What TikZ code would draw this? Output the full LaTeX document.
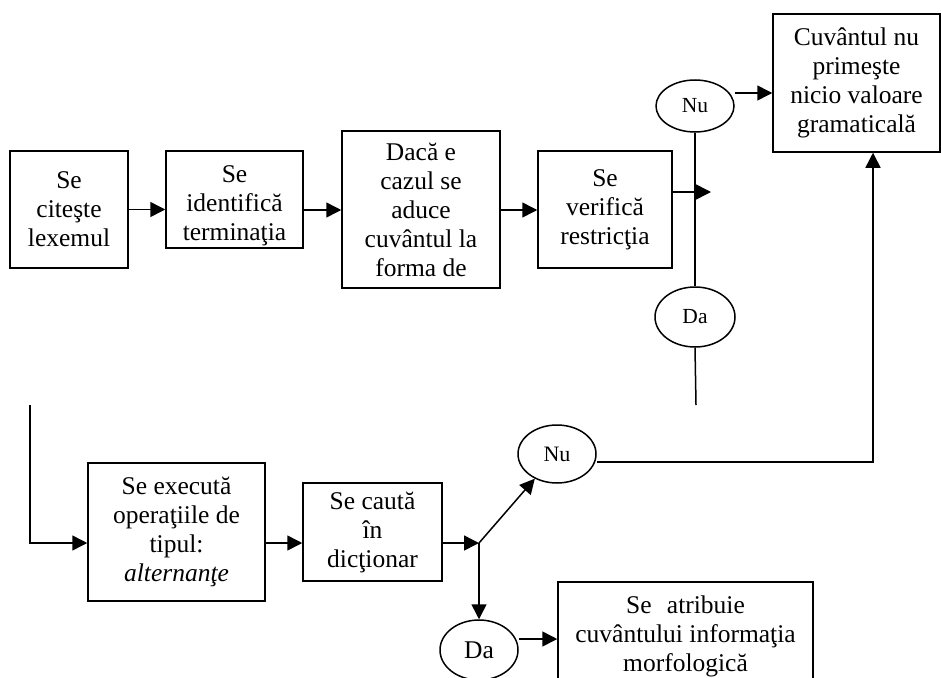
\documentclass[tikz,border=0pt]{standalone}
\usepackage{fontspec}
\setmainfont{Liberation Serif}
\usetikzlibrary{arrows.meta,shapes.geometric}
\newcommand\bigtxt{\fontsize{25.5}{29}\selectfont}
\newcommand\midtxt{\fontsize{22}{25}\selectfont}
\newcommand\smalltxt{\fontsize{21.5}{24}\selectfont}
\tikzset{
  box/.style={draw, line width=1.5pt, inner sep=0pt, align=center, font=\bigtxt},
  oval/.style={draw, ellipse, line width=1.5pt, inner sep=0pt},
  arr/.style={line width=1.5pt, -{Triangle[length=15pt,width=15pt]}},
  ln/.style={line width=1.5pt}
}
\begin{document}
\begin{tikzpicture}[x=1pt, y=-1pt]
\useasboundingbox (0,0) rectangle (941,677);
\clip (0,0) rectangle (941,677);

% upper row
\node[box, minimum width=118pt, minimum height=117pt] (b1) at (69,209.5) {Se\\citeşte\\lexemul};
\node[box, minimum width=137pt, minimum height=97pt] (b2) at (234.5,199.5) {\rule{0pt}{29pt}Se\\identifică\\terminaţia};
\node[box, minimum width=158pt, minimum height=157pt] (b3) at (421,209.5) {Dacă e\\cazul se\\aduce\\cuvântul la\\forma de};
\node[box, minimum width=134pt, minimum height=117pt] (b4) at (605,209.5) {Se\\verifică\\restricţia};
\node[box, minimum width=167pt, minimum height=138pt] (cuv) at (856.5,83) {Cuvântul nu\\primeşte\\nicio valoare\\gramaticală};

\node[oval, minimum width=78pt, minimum height=52pt, font=\smalltxt] (nu1) at (695,106) {Nu};
\node[oval, minimum width=80pt, minimum height=60pt, font=\smalltxt] (da1) at (695,317) {Da};

% lower row
\node[box, minimum width=177pt, minimum height=138pt] (b5) at (176.5,532) {Se execută\\operaţiile de\\tipul:\\\textit{alternanţe}};
\node[box, minimum width=139pt, minimum height=98pt] (b6) at (372.5,532) {Se caută\\în\\dicţionar};
\node[oval, minimum width=78pt, minimum height=58pt, font=\midtxt] (nu2) at (557,454) {Nu};
\node[oval, minimum width=78pt, minimum height=60pt, font=\bigtxt] (da2) at (479,650) {Da};
\node[box, minimum width=255pt, minimum height=108pt] (b7) at (685.5,636) {Se\hspace{0.6em}atribuie\\cuvântului informaţia\\morfologică};

% helper points
\coordinate (r1) at (0,210);
\coordinate (r2) at (0,543);
\coordinate (t1) at (711,192);
\coordinate (e1) at (696,405);
\coordinate (s2) at (30,405);
\coordinate (j) at (479,543);
\coordinate (ux) at (873,0);

% upper connectors
\draw[arr] (b1.east) -- (b1.east -| b2.west);
\draw[arr] (b2.east |- r1) -- (b3.west |- r1);
\draw[arr] (b3.east |- r1) -- (b4.west |- r1);
\draw[arr] (b4.east |- t1) -- (t1);
\draw[ln] (nu1.south) -- (da1.north);
\draw[ln] (da1.south) -- (e1);
\draw[arr] ([yshift=13pt]nu1.east) -- ([yshift=13pt]nu1.east -| cuv.west);

% lower connectors
\draw[arr] (s2) |- (b5.west |- r2);
\draw[arr] (b5.east |- r2) -- (b6.west |- r2);
\draw[arr] (b6.east |- r2) -- (j);
\draw[arr] (j) -- (nu2.228);
\draw[arr] (j) -- (da2.north);
\draw[arr] ([yshift=-8pt]nu2.east) -| (ux |- cuv.south);
\draw[arr] ([yshift=11pt]da2.east) -- ([yshift=11pt]da2.east -| b7.west);
\end{tikzpicture}
\end{document}
